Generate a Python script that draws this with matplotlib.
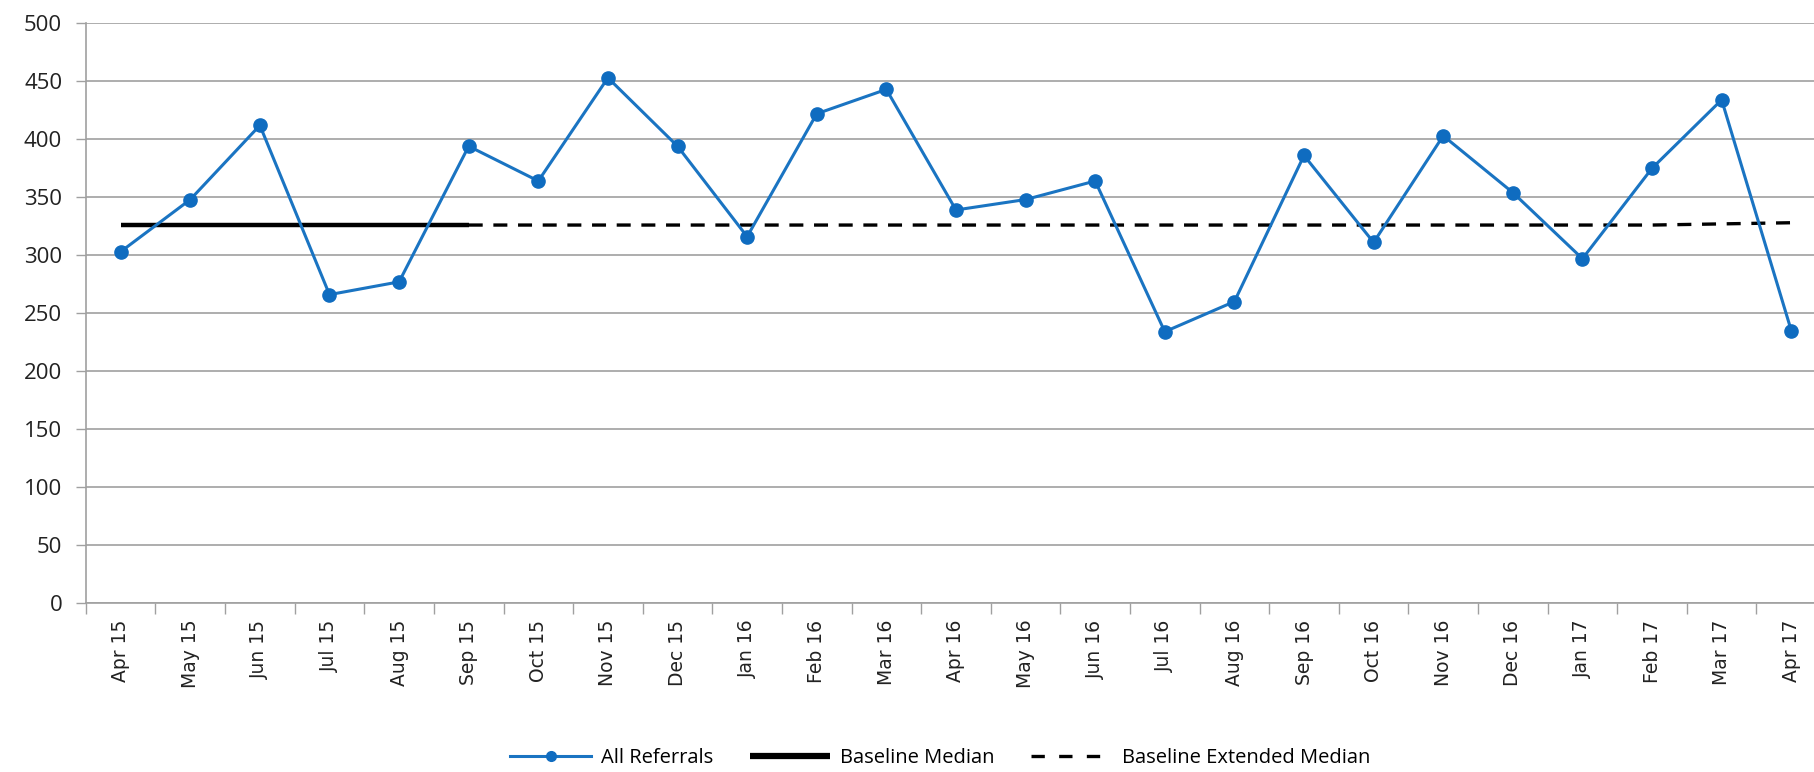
import matplotlib
matplotlib.use('Agg')
import matplotlib.pyplot as plt
import numpy as np
from matplotlib.ticker import FixedLocator

# Monthly referral counts
months = ['Apr 15', 'May 15', 'Jun 15', 'Jul 15', 'Aug 15', 'Sep 15', 'Oct 15',
          'Nov 15', 'Dec 15', 'Jan 16', 'Feb 16', 'Mar 16', 'Apr 16', 'May 16',
          'Jun 16', 'Jul 16', 'Aug 16', 'Sep 16', 'Oct 16', 'Nov 16', 'Dec 16',
          'Jan 17', 'Feb 17', 'Mar 17', 'Apr 17']
referrals = [303, 348, 412, 266, 277, 394, 364, 453, 394, 316, 422, 443, 339,
             348, 364, 234, 260, 386, 311, 403, 354, 297, 375, 434, 235]

# Baseline median over the first six months, then carried forward
baseline_months = months[:6]
baseline_median = [326, 326, 326, 326, 326, 326]
extended_months = months[5:]
extended_median = [326, 326, 326, 326, 326, 326, 326, 326, 326, 326, 326, 326,
                   326, 326, 326, 326, 326, 326, 327, 328]

y_ticks = list(range(0, 501, 50))

blue = '#1a74c2'
grid_grey = '#a0a0a0'

fig = plt.figure(figsize=(18.15, 7.72), dpi=100)
ax = fig.add_axes([0.0473, 0.2189, 0.9588, 0.7509])

x_all = np.arange(len(months))
x_base = x_all[:len(baseline_months)]
x_ext = x_all[len(baseline_months) - 1:]

ax.plot(x_all, referrals, color=blue, lw=2.2, marker='o', markersize=9.5,
        markerfacecolor='#0f6cc0', markeredgecolor='#0f6cc0',
        label='All Referrals', zorder=4)
ax.plot(x_base, baseline_median, color='black', lw=3.2, solid_capstyle='butt',
        label='Baseline Median', zorder=3)
ax.plot(x_ext, extended_median, color='black', lw=2.4, dashes=(4.2, 3.2),
        label='Baseline Extended Median', zorder=3)

ax.set_xlim(-0.5, len(months) - 0.5)
ax.set_ylim(0, 500)

# y axis
ax.set_yticks(y_ticks)
ax.tick_params(axis='y', length=7, width=1, color=grid_grey, pad=10,
               labelsize=16, labelcolor='#222222')
for lab in ax.get_yticklabels():
    lab.set_family(['Open Sans', 'DejaVu Sans'])
ax.yaxis.grid(True, color=grid_grey, lw=1.2)
ax.set_axisbelow(True)

# x axis: labels at month centres, tick marks between months
ax.set_xticks(x_all)
ax.set_xticklabels(months, rotation=90, fontsize=13.5,
                   family=['DejaVu Sans'], color='#222222')
ax.xaxis.set_minor_locator(FixedLocator(np.arange(-0.5, len(months), 1.0)))
ax.tick_params(axis='x', which='major', length=0, pad=12)
ax.tick_params(axis='x', which='minor', length=8, width=1, color=grid_grey)

for side in ['top', 'right']:
    ax.spines[side].set_visible(False)
for side in ['left', 'bottom']:
    ax.spines[side].set_color(grid_grey)
    ax.spines[side].set_linewidth(1.2)

leg = fig.legend(loc='center', bbox_to_anchor=(0.518, 0.018), ncol=3,
                 frameon=False, handlelength=4.0, columnspacing=1.8,
                 handletextpad=0.5,
                 prop={'family': ['Open Sans', 'DejaVu Sans'], 'size': 14.5})
leg.legend_handles[0].set_markersize(7)
leg.legend_handles[1].set_linewidth(4.5)
leg.legend_handles[2].set_dashes((4.0, 4.3))

fig.savefig('out.png', dpi=100, facecolor='white')
